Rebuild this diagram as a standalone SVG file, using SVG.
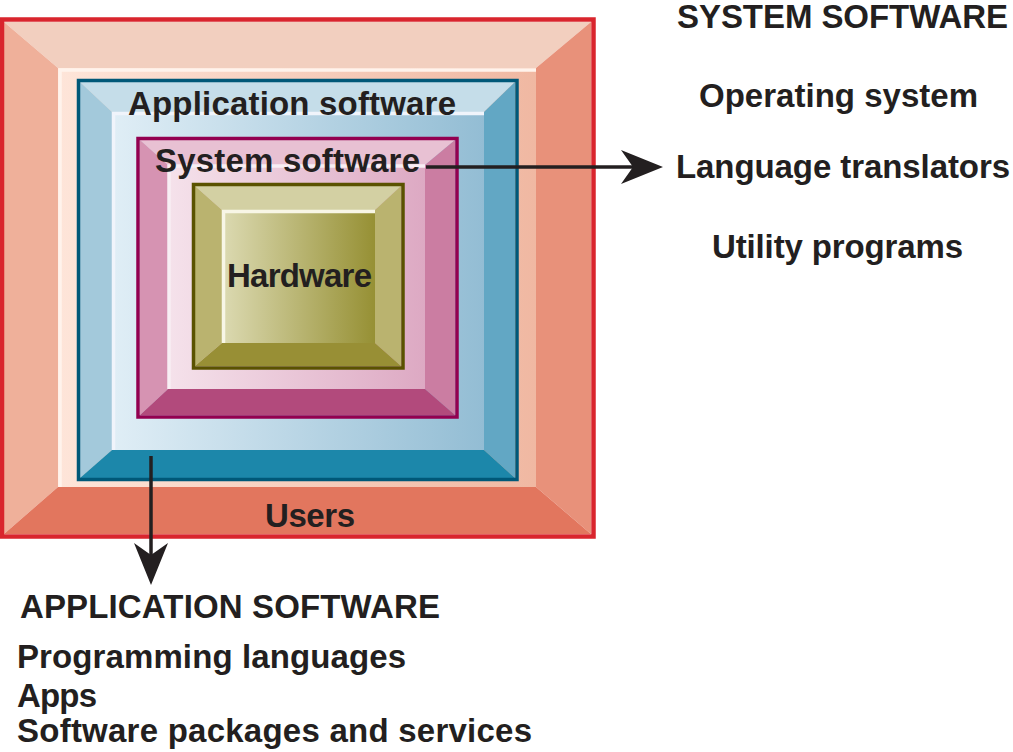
<svg xmlns="http://www.w3.org/2000/svg" width="1013" height="752" viewBox="0 0 1013 752">
<style>
  .t { font-family: "Liberation Sans", Arial, Helvetica, sans-serif; font-weight: bold; font-size: 33px; fill: #231F20; }
  .hl { fill: none; stroke-width: 3.5; }
  .conn { stroke: #231F20; stroke-width: 3.5; fill: none; }
</style>
<defs>
  <linearGradient id="gOuter" x1="0" y1="0" x2="1" y2="0">
    <stop offset="0" stop-color="#FEE5D9"/>
    <stop offset="1" stop-color="#F0B8A2"/>
  </linearGradient>
  <linearGradient id="gBlue" x1="0" y1="0" x2="1" y2="0">
    <stop offset="0" stop-color="#E0EEF6"/>
    <stop offset="1" stop-color="#93BDD4"/>
  </linearGradient>
  <linearGradient id="gPink" x1="0" y1="0" x2="1" y2="0">
    <stop offset="0" stop-color="#F5E2EB"/>
    <stop offset="1" stop-color="#DDA9C3"/>
  </linearGradient>
  <linearGradient id="gOlive" x1="0" y1="0" x2="1" y2="0">
    <stop offset="0" stop-color="#DCDAB2"/>
    <stop offset="1" stop-color="#969034"/>
  </linearGradient>
  <marker id="arrow" markerUnits="userSpaceOnUse" markerWidth="42" markerHeight="34" viewBox="0 0 42 34" refX="18" refY="17" orient="auto">
    <path d="M42,17 L0,0 L12,17 L0,34 Z" fill="#231F20"/>
  </marker>
</defs>

<g id="users">
  <polygon points="4,22 591,22 536,68 58,68" fill="#F2CFBF"/>
  <polygon points="4,22 58,68 58,487 4,534" fill="#EFB09A"/>
  <polygon points="591,22 536,68 536,487 591,534" fill="#E8917A"/>
  <polygon points="4,534 58,487 536,487 591,534" fill="#E2765E"/>
  <rect x="58" y="68" width="478" height="419" fill="url(#gOuter)"/>
  <path class="hl" d="M60,487 V70 H536" stroke="#FFF3EC"/>
  <rect x="2" y="19.5" width="591.5" height="517" fill="none" stroke="#D9252D" stroke-width="4.5"/>
  <text class="t" x="265" y="527" textLength="90">Users</text>
</g>

<g id="application-software">
  <polygon points="80,82 515,82 484,112 112,112" fill="#C5DDE9"/>
  <polygon points="80,82 112,112 112,450 80,478" fill="#A3C9DB"/>
  <polygon points="515,82 484,112 484,450 515,478" fill="#62A7C4"/>
  <polygon points="80,478 112,450 484,450 515,478" fill="#1C87AA"/>
  <rect x="112" y="112" width="372" height="338" fill="url(#gBlue)"/>
  <path class="hl" d="M113.5,450 V113.5 H484" stroke="#F0F4FB" stroke-width="3"/>
  <rect x="78.5" y="80.5" width="438.5" height="399" fill="none" stroke="#005878" stroke-width="3.5"/>
  <text class="t" x="128" y="115" textLength="328">Application software</text>
</g>

<g id="system-software">
  <polygon points="140,140 455,140 425,165 168,165" fill="#E8C1D3"/>
  <polygon points="140,140 168,165 168,389 140,415" fill="#D693B2"/>
  <polygon points="455,140 425,165 425,389 455,415" fill="#CB7DA2"/>
  <polygon points="140,415 168,389 425,389 455,415" fill="#B24A7C"/>
  <rect x="168" y="165" width="257" height="224" fill="url(#gPink)"/>
  <path class="hl" d="M169,389 V166 H425" stroke="#F8EEF4" stroke-width="2"/>
  <rect x="138" y="138.5" width="319" height="278.5" fill="none" stroke="#930050" stroke-width="3.5"/>
  <text class="t" x="155" y="172" textLength="265">System software</text>
</g>

<g id="hardware">
  <polygon points="195,186 401,186 375,210 222,210" fill="#D3D0A3"/>
  <polygon points="195,186 222,210 222,343 195,366" fill="#BAB36F"/>
  <polygon points="401,186 375,210 375,343 401,366" fill="#BAB36F"/>
  <polygon points="195,366 222,343 375,343 401,366" fill="#988F35"/>
  <rect x="222" y="210" width="153" height="133" fill="url(#gOlive)"/>
  <path class="hl" d="M223.5,343 V211.5 H375" stroke="#F8F6E6" stroke-width="3"/>
  <rect x="193.5" y="184.5" width="209.5" height="183.5" fill="none" stroke="#5A5200" stroke-width="3.5"/>
  <text class="t" x="227" y="287" textLength="145">Hardware</text>
</g>

<g id="connectors">
  <line class="conn" x1="426" y1="167" x2="639" y2="167" marker-end="url(#arrow)"/>
  <line class="conn" x1="151" y1="456" x2="151" y2="561" marker-end="url(#arrow)"/>
</g>

<g id="system-software-list">
  <text class="t" x="677" y="28" textLength="331">SYSTEM SOFTWARE</text>
  <text class="t" x="699" y="107" textLength="279">Operating system</text>
  <text class="t" x="676" y="178" textLength="334">Language translators</text>
  <text class="t" x="712" y="258" textLength="251">Utility programs</text>
</g>

<g id="application-software-list">
  <text class="t" x="20" y="618" textLength="420">APPLICATION SOFTWARE</text>
  <text class="t" x="17" y="668" textLength="389">Programming languages</text>
  <text class="t" x="17" y="707" textLength="80">Apps</text>
  <text class="t" x="17" y="742" textLength="515">Software packages and services</text>
</g>
</svg>
